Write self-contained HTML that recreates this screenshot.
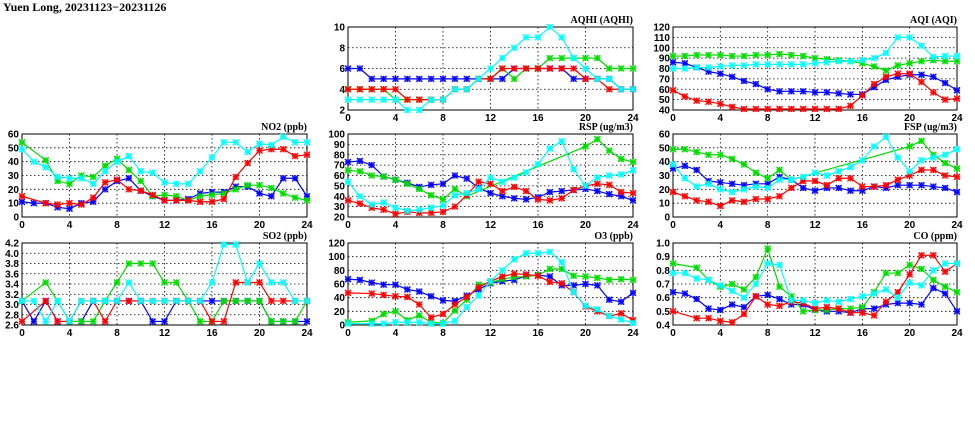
<!DOCTYPE html>
<html><head><meta charset="utf-8"><style>
body{margin:0;background:#fff;width:975px;height:447px;overflow:hidden}
svg{display:block}
text{font-family:"Liberation Sans",sans-serif;font-weight:bold;font-size:10px;fill:#000}
</style></head><body>
<svg id="c" width="975" height="447">
<text x="3" y="11" font-size="12" style="font-family:'Liberation Serif',serif;font-size:12px">Yuen Long, 20231123−20231126</text>
</svg>
<script>
const hours=[0,1,2,3,4,5,6,7,8,9,10,11,12,13,14,15,16,17,18,19,20,21,22,23,24];
const seriesColors=["#0000ff","#00dd00","#ff0000","#00ffff"];
const N=null;
const aqhiBlue=[6,6,5,5,5,5,5,5,5,5,5,5,5,5,6,6,6,6,6,5,5,5,5,4,4];
const aqhiGreen=[4,4,4,4,3,3,3,3,3,4,4,5,5,6,5,6,6,7,7,7,7,7,6,6,6];
const aqhiRed=[4,4,4,4,4,3,3,3,3,4,4,5,5,6,6,6,6,6,6,6,5,5,4,4,4];
const aqhiCyan=[3,3,3,3,3,2,2,3,3,4,4,5,6,7,8,9,9,10,9,7,6,5,5,4,4];
const aqiBlue=[86,85,81,77,75,72,68,65,60,58,58,58,57,57,56,55,55,62,69,72,74,74,72,66,59];
const aqiGreen=[92,92,93,93,93,92,92,93,93,94,93,92,90,89,88,87,85,82,78,83,85,87,88,87,87];
const aqiRed=[59,53,49,48,46,43,41,41,41,41,41,41,41,41,41,44,54,65,72,75,75,67,57,50,51];
const aqiCyan=[80,80,81,81,82,83,83,84,84,84,84,84,85,86,87,87,88,90,95,110,110,102,91,92,92];
const no2Blue=[11,10,10,7,6,10,11,20,26,28,19,15,12,12,13,17,18,18,22,22,17,15,28,28,15];
const no2Green=[54,N,41,26,24,30,29,37,42,34,26,15,16,15,12,15,16,17,20,23,23,21,17,14,12];
const no2Red=[15,N,10,9,10,9,14,25,27,20,19,16,12,12,12,11,11,13,29,39,48,49,49,44,45];
const no2Cyan=[49,40,36,29,28,28,24,33,40,44,33,32,25,24,24,33,43,54,54,47,53,52,58,54,54];
const rspBlue=[73,74,70,59,56,53,49,51,52,60,57,48,43,40,38,37,39,44,45,46,47,45,42,40,36];
const rspGreen=[65,64,60,59,56,52,47,41,37,47,40,N,N,N,N,N,N,N,N,N,88,95,84,76,73];
const rspRed=[36,33,29,27,23,25,24,24,25,30,41,54,52,45,49,45,37,36,38,46,50,52,51,44,43];
const rspCyan=[54,40,32,34,29,26,27,29,31,41,43,47,58,54,58,63,71,86,93,66,50,58,60,61,65];
const fspBlue=[35,37,34,26,25,24,23,24,24,29,27,21,19,21,21,19,19,22,21,23,23,23,22,21,18];
const fspGreen=[49,49,47,45,45,42,38,32,28,34,27,N,N,N,N,N,N,N,N,N,51,55,45,39,35];
const fspRed=[18,15,12,11,8,12,11,13,13,15,21,26,26,23,28,28,22,22,23,27,30,34,34,30,29];
const fspCyan=[38,28,22,24,20,18,20,22,21,27,27,29,32,30,33,36,41,51,58,43,33,41,43,45,49];
const so2Blue=[3.07,2.67,3.07,2.67,2.67,2.67,3.07,3.07,3.07,3.07,3.07,2.67,2.67,3.07,3.07,3.07,3.07,3.07,3.07,3.07,3.07,2.67,2.67,2.67,2.67];
const so2Green=[3.07,N,3.43,3.07,2.67,2.67,2.67,3.07,3.43,3.8,3.8,3.8,3.43,3.43,3.07,2.67,2.67,3.07,3.07,3.07,3.07,2.67,2.67,2.67,3.07];
const so2Red=[2.67,N,3.07,2.67,2.67,3.07,3.07,2.67,3.07,3.07,3.07,3.07,3.07,3.07,3.07,3.07,2.67,2.67,3.43,3.43,3.43,3.07,3.07,3.07,3.07];
const so2Cyan=[3.07,3.07,2.67,3.07,2.67,3.07,3.07,3.07,3.07,3.43,3.07,3.07,3.07,3.07,3.07,3.07,3.43,4.17,4.17,3.43,3.8,3.43,3.43,3.07,3.07];
const o3Blue=[67,66,62,59,59,52,49,42,36,35,43,52,61,64,66,72,73,71,58,58,60,58,37,34,47];
const o3Green=[4,N,6,16,20,7,14,4,3,21,37,59,62,67,70,71,73,82,82,72,71,69,66,67,66];
const o3Red=[47,N,46,44,42,41,30,11,16,30,41,55,64,71,75,74,72,63,61,48,27,20,13,17,7];
const o3Cyan=[2,N,2,2,4,4,4,2,2,6,26,43,64,80,96,105,105,107,92,48,28,23,13,8,3];
const coBlue=[0.64,0.63,0.59,0.52,0.51,0.55,0.53,0.61,0.62,0.59,0.55,0.55,0.51,0.50,0.50,0.49,0.52,0.52,0.55,0.56,0.56,0.55,0.67,0.63,0.50];
const coGreen=[0.85,N,0.82,0.73,0.68,0.70,0.66,0.75,0.96,0.68,0.61,0.50,0.51,0.51,0.52,0.52,0.53,0.64,0.78,0.78,0.84,0.81,0.73,0.68,0.64];
const coRed=[0.50,N,0.45,0.45,0.43,0.42,0.48,0.61,0.55,0.54,0.57,0.56,0.52,0.53,0.52,0.49,0.49,0.47,0.57,0.64,0.77,0.91,0.91,0.79,0.85];
const coCyan=[0.78,0.78,0.74,0.73,0.69,0.65,0.60,0.70,0.85,0.84,0.58,0.58,0.56,0.58,0.57,0.59,0.61,0.63,0.66,0.60,0.71,0.69,0.80,0.85,0.85];
const xTicks=[0,4,8,12,16,20,24];

const panels=[
 {name:"aqhi",title:"AQHI (AQHI)",x0:348,x1:633,y0:27,y1:110,min:2,max:10,step:2,dec:0,s:[aqhiBlue,aqhiGreen,aqhiRed,aqhiCyan]},
 {name:"aqi",title:"AQI (AQI)",x0:673,x1:957,y0:27,y1:110,min:40,max:120,step:10,dec:0,s:[aqiBlue,aqiGreen,aqiRed,aqiCyan]},
 {name:"no2",title:"NO2 (ppb)",x0:22,x1:307,y0:134,y1:217,min:0,max:60,step:10,dec:0,s:[no2Blue,no2Green,no2Red,no2Cyan]},
 {name:"rsp",title:"RSP (ug/m3)",x0:348,x1:633,y0:134,y1:217,min:20,max:100,step:10,dec:0,s:[rspBlue,rspGreen,rspRed,rspCyan]},
 {name:"fsp",title:"FSP (ug/m3)",x0:673,x1:957,y0:134,y1:217,min:0,max:60,step:10,dec:0,s:[fspBlue,fspGreen,fspRed,fspCyan]},
 {name:"so2",title:"SO2 (ppb)",x0:22,x1:307,y0:243,y1:325,min:2.6,max:4.2,step:0.2,dec:1,s:[so2Blue,so2Green,so2Red,so2Cyan]},
 {name:"o3",title:"O3 (ppb)",x0:348,x1:633,y0:243,y1:325,min:0,max:120,step:20,dec:0,s:[o3Blue,o3Green,o3Red,o3Cyan]},
 {name:"co",title:"CO (ppm)",x0:673,x1:957,y0:243,y1:325,min:0.4,max:1.0,step:0.1,dec:1,s:[coBlue,coGreen,coRed,coCyan]}
];
const svg=document.getElementById('c');
const NS="http://www.w3.org/2000/svg";
function mk(tag,attrs,parent){const e=document.createElementNS(NS,tag);for(const k in attrs)e.setAttribute(k,attrs[k]);parent.appendChild(e);return e;}
panels.forEach(p=>{
 const g=mk('g',{},svg);
 
 
 const xs=v=>p.x0+(v-0)/24*(p.x1-p.x0);
 const ys=v=>p.y1-(v-p.min)/(p.max-p.min)*(p.y1-p.y0);
 const nT=Math.round((p.max-p.min)/p.step);
 for(let i=0;i<=nT;i++){
  const v=p.min+i*p.step,y=ys(v);
  if(i>0&&i<nT){const l=mk('line',{x1:p.x0,x2:p.x1,y1:y,y2:y,stroke:'#000','stroke-width':0.8,'stroke-dasharray':'1.5,2.5'},g);}
  const t=mk('text',{x:p.x0-3,y:y+3.5,'text-anchor':'end'},g);t.textContent=v.toFixed(p.dec);
  
 }
 xTicks.forEach(v=>{
  const x=xs(v);
  if(v>0&&v<24){const l=mk('line',{x1:x,x2:x,y1:p.y0,y2:p.y1,stroke:'#000','stroke-width':0.8,'stroke-dasharray':'1.5,2.5'},g);}
  const t=mk('text',{x:x,y:p.y1+11,'text-anchor':'middle'},g);t.textContent=v;
  
 });
 const fr=mk('rect',{x:p.x0,y:p.y0,width:p.x1-p.x0,height:p.y1-p.y0,fill:'none',stroke:'#000','stroke-width':1},g);
 
 const tt=mk('text',{x:p.x1,y:p.y0-4,'text-anchor':'end',style:"font-family:'Liberation Serif',serif;font-size:10px"},g);tt.textContent=p.title;
 
 p.s.forEach((arr,si)=>{
  const col=seriesColors[si];
  const pts=[];arr.forEach((v,i)=>{if(v!==null)pts.push([xs(hours[i]),ys(v)]);});
  const pl=mk('polyline',{points:pts.map(q=>q.join(',')).join(' '),fill:'none',stroke:col,'stroke-width':1.2},g);
  
  pts.forEach(q=>{
   const m=mk('g',{},g);
   
   const [x,y]=q,r=3;
   mk('rect',{x:x-r,y:y-r,width:2*r,height:2*r,fill:col,'fill-opacity':0.35},m);
   mk('path',{d:`M${x-r},${y-r}L${x+r},${y+r}M${x-r},${y+r}L${x+r},${y-r}M${x-r},${y}L${x+r},${y}M${x},${y-r}L${x},${y+r}`,stroke:col,'stroke-width':1.2},m);
  });
 });
});
</script>
</body></html>
